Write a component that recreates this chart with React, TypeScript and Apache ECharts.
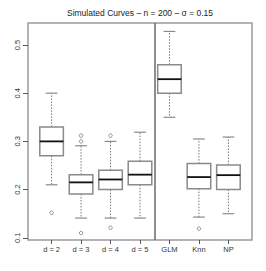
import React, { useEffect, useRef } from "react";
import * as echarts from "echarts";

const categories = ["d = 2", "d = 3", "d = 4", "d = 5", "GLM", "Knn", "NP"];
// [lower whisker, Q1, median, Q3, upper whisker]
const boxStats = [
  [0.21, 0.27, 0.3, 0.33, 0.4],
  [0.141, 0.191, 0.215, 0.231, 0.291],
  [0.141, 0.2, 0.221, 0.24, 0.3],
  [0.141, 0.21, 0.231, 0.259, 0.319],
  [0.35, 0.4, 0.429, 0.459, 0.528],
  [0.143, 0.202, 0.226, 0.254, 0.305],
  [0.15, 0.2, 0.23, 0.251, 0.309],
];
// [category index (1-based), value]
const outliers = [
  [1, 0.152],
  [2, 0.312],
  [2, 0.3],
  [2, 0.11],
  [3, 0.312],
  [3, 0.121],
  [6, 0.119],
];
const yTicks = [0.1, 0.2, 0.3, 0.4, 0.5];
const xTicks = [1, 2, 3, 4, 5, 6, 7];
const dividerAt = [4.5];
const titleText = "Simulated Curves \u2013 n = 200 \u2013 \u03c3 = 0.15";

export default function App() {
  const ref = useRef<HTMLDivElement>(null);
  useEffect(() => {
    if (!ref.current) return;
    const chart = echarts.init(ref.current, null, { renderer: "svg" });
    const font = "Liberation Sans, Arial, Helvetica, sans-serif";
    const boxData = boxStats.map((s, i) => [i + 1, ...s]);
    chart.setOption({
      animation: false,
      backgroundColor: "#ffffff",
      textStyle: { fontFamily: font },
      title: {
        text: titleText,
        left: 140,
        top: 8,
        padding: 0,
        textAlign: "center",
        textStyle: { fontSize: 8.5, fontWeight: "normal", color: "#222", fontFamily: font },
      },
      grid: {
        left: 28,
        top: 23,
        right: 14,
        bottom: 31,
        show: true,
        borderColor: "#9a9a9a",
        borderWidth: 1.5,
        backgroundColor: "transparent",
      },
      xAxis: {
        type: "value",
        min: 0.2,
        max: 7.8,
        splitLine: { show: false },
        axisLine: { show: false },
        axisTick: {
          show: true,
          customValues: xTicks,
          length: 4,
          lineStyle: { color: "#555", width: 1 },
        },
        axisLabel: {
          customValues: xTicks,
          formatter: (v: number) => categories[Math.round(v) - 1] ?? "",
          fontSize: 7.5,
          color: "#333",
          margin: 5,
          fontFamily: font,
        },
      },
      yAxis: {
        type: "value",
        min: 0.0955,
        max: 0.5455,
        splitLine: { show: false },
        axisLine: { show: false },
        axisTick: {
          show: true,
          customValues: yTicks,
          length: 5,
          lineStyle: { color: "#555", width: 1 },
        },
        axisLabel: {
          customValues: yTicks,
          formatter: (v: number) => v.toFixed(1),
          rotate: 90,
          fontSize: 7.5,
          color: "#333",
          margin: 7,
          fontFamily: font,
        },
      },
      series: [
        {
          type: "custom",
          data: boxData,
          encode: { x: 0, y: [1, 2, 3, 4, 5] },
          renderItem: (params: any, api: any) => {
            const x = api.value(0);
            const lo = api.value(1);
            const q1 = api.value(2);
            const med = api.value(3);
            const q3 = api.value(4);
            const hi = api.value(5);
            const pLo = api.coord([x, lo]);
            const pQ1 = api.coord([x, q1]);
            const pMed = api.coord([x, med]);
            const pQ3 = api.coord([x, q3]);
            const pHi = api.coord([x, hi]);
            const bw = api.size([0.8, 0])[0];
            const cw = bw / 2;
            const cx = pMed[0];
            const grey = "#8a8a8a";
            return {
              type: "group",
              children: [
                {
                  type: "line",
                  shape: { x1: cx, y1: pQ3[1], x2: cx, y2: pHi[1] },
                  style: { stroke: "#777", lineWidth: 1, lineDash: [1.5, 1.5] },
                },
                {
                  type: "line",
                  shape: { x1: cx, y1: pQ1[1], x2: cx, y2: pLo[1] },
                  style: { stroke: "#777", lineWidth: 1, lineDash: [1.5, 1.5] },
                },
                {
                  type: "line",
                  shape: { x1: cx - cw / 2, y1: pHi[1], x2: cx + cw / 2, y2: pHi[1] },
                  style: { stroke: grey, lineWidth: 1.2 },
                },
                {
                  type: "line",
                  shape: { x1: cx - cw / 2, y1: pLo[1], x2: cx + cw / 2, y2: pLo[1] },
                  style: { stroke: grey, lineWidth: 1.2 },
                },
                {
                  type: "rect",
                  shape: { x: cx - bw / 2, y: pQ3[1], width: bw, height: pQ1[1] - pQ3[1] },
                  style: { fill: "#ffffff", stroke: grey, lineWidth: 1.5 },
                },
                {
                  type: "line",
                  shape: { x1: cx - bw / 2, y1: pMed[1], x2: cx + bw / 2, y2: pMed[1] },
                  style: { stroke: "#111", lineWidth: 1.8 },
                },
              ],
            };
          },
        },
        {
          type: "scatter",
          data: outliers,
          symbol: "circle",
          symbolSize: 3.5,
          itemStyle: { color: "#ffffff", borderColor: "#777", borderWidth: 1 },
          silent: true,
          markLine: {
            silent: true,
            symbol: "none",
            label: { show: false },
            lineStyle: { color: "#6a6a6a", width: 1.5, type: "solid" },
            data: dividerAt.map((v) => ({ xAxis: v })),
          },
        },
      ],
    });
    return () => chart.dispose();
  }, []);
  return (
    <div
      ref={ref}
      style={{ position: "fixed", left: 0, top: 0, width: 266, height: 271 }}
    />
  );
}
